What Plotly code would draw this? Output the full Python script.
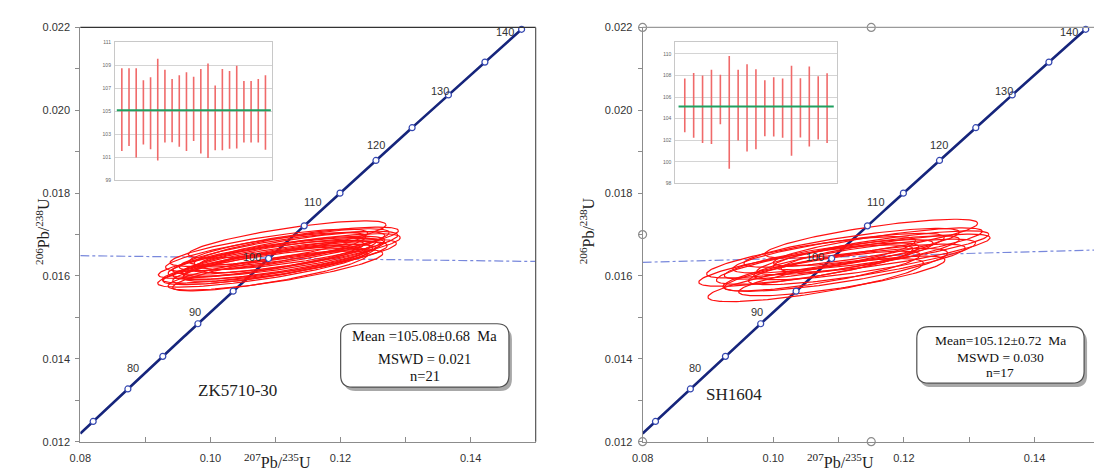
import numpy as np
import plotly.graph_objects as go

W, H = 1094, 473

# ---------------- data ----------------
# U decay constants (per year) used to build the concordia curve
L238 = 1.55125e-10
L235 = 9.8485e-10

tick_ages = [80, 85, 90, 95, 100, 105, 110, 115, 120, 125, 130, 135, 140]
label_ages = [80, 90, 100, 110, 120, 130, 140]

frame_x = [0.08, 0.15]
frame_y = [0.012, 0.022]

# ZK5710-30 : ellipses (207Pb/235U, 206Pb/238U, 2s x, 2s y, rho)
zk_x = [0.1095, 0.1082, 0.1110, 0.1125, 0.1088, 0.1100, 0.1078, 0.1118, 0.1132, 0.1092, 0.1105,
        0.1115, 0.1085, 0.1128, 0.1098, 0.1080, 0.1112, 0.1122, 0.1090, 0.1102, 0.1135]
zk_y = [0.01645, 0.01625, 0.01660, 0.01668, 0.01630, 0.01615, 0.01640, 0.01688, 0.01655, 0.01612, 0.01650,
        0.01635, 0.01658, 0.01672, 0.01628, 0.01620, 0.01645, 0.01640, 0.01668, 0.01638, 0.01662]
zk_sx = [0.0160, 0.0155, 0.0158, 0.0150, 0.0162, 0.0165, 0.0158, 0.0152, 0.0160, 0.0150, 0.0163,
         0.0157, 0.0154, 0.0161, 0.0156, 0.0161, 0.0155, 0.0164, 0.0152, 0.0159, 0.0153]
zk_sy = [0.00048, 0.00046, 0.00047, 0.00046, 0.00047, 0.00049, 0.00046, 0.00045, 0.00047, 0.00048, 0.00046,
         0.00048, 0.00047, 0.00046, 0.00048, 0.00047, 0.00046, 0.00048, 0.00045, 0.00047, 0.00046]
zk_rho = [0.80, 0.79, 0.81, 0.80, 0.82, 0.80, 0.81, 0.79, 0.80, 0.82, 0.79,
          0.80, 0.79, 0.81, 0.82, 0.80, 0.79, 0.81, 0.79, 0.80, 0.79]
zk_line = [0.01649, 0.01635]          # dashed line y at frame_x ends
zk_lo = [101.56, 101.98, 101.00, 102.12, 101.70, 100.72, 102.29, 102.31, 101.92, 101.56, 102.43,
         101.34, 100.94, 101.62, 101.62, 101.76, 101.78, 102.29, 102.29, 102.29, 101.67]
zk_hi = [108.72, 108.72, 108.72, 107.69, 107.94, 109.56, 108.60, 107.80, 108.13, 108.38, 107.99,
         108.66, 109.14, 107.24, 108.66, 108.50, 108.94, 107.63, 107.63, 107.80, 108.13]
zk_mean = 105.08
zk_text = ["Mean =105.08±0.68\u00a0 Ma", "MSWD = 0.021", "n=21"]

# SH1604
sh_x = [0.1050, 0.1085, 0.1120, 0.1160, 0.1065, 0.1095, 0.1172, 0.1058, 0.1130, 0.1105, 0.1150,
        0.1075, 0.1140, 0.1165, 0.1100, 0.1128, 0.1068]
sh_y = [0.01625, 0.01640, 0.01668, 0.01670, 0.01590, 0.01615, 0.01655, 0.01645, 0.01650, 0.01600, 0.01690,
        0.01612, 0.01640, 0.01662, 0.01655, 0.01628, 0.01630]
sh_sx = [0.0164, 0.0160, 0.0165, 0.0160, 0.0165, 0.0172, 0.0160, 0.0160, 0.0155, 0.0158, 0.0163,
         0.0150, 0.0170, 0.0165, 0.0162, 0.0166, 0.0155]
sh_sy = [0.00050, 0.00048, 0.00047, 0.00046, 0.00052, 0.00052, 0.00046, 0.00050, 0.00047, 0.00048, 0.00047,
         0.00048, 0.00049, 0.00047, 0.00048, 0.00049, 0.00050]
sh_rho = [0.80, 0.81, 0.80, 0.82, 0.79, 0.78, 0.81, 0.80, 0.82, 0.80, 0.79,
          0.81, 0.80, 0.82, 0.79, 0.81, 0.80]
sh_line = [0.01633, 0.01663]
sh_lo = [102.74, 102.22, 101.74, 101.65, 103.49, 99.35, 101.98, 100.95, 101.17, 102.37, 102.34,
         102.22, 100.56, 102.25, 101.41, 102.07, 101.74]
sh_hi = [107.72, 108.24, 107.99, 108.54, 108.08, 109.81, 108.54, 109.05, 108.57, 107.57, 107.84,
         107.72, 108.90, 107.75, 108.84, 107.93, 108.21]
sh_mean = 105.12
sh_text = ["Mean=105.12±0.72\u00a0 Ma", "MSWD = 0.030", "n=17"]

# ---------------- style / layout helpers ----------------
SERIF = "Liberation Serif"
SANS = "Liberation Sans"
NAVY = "#16257c"
label_shifts = [(40, 53), (32, 44), (19, 34), (9, 24), (0, 15), (-8, 4), (-17, -3)]


def X(px):
    return px / W


def Y(py):
    return 1 - py / H


def ratios(age_ma):
    t = np.asarray(age_ma, dtype=float) * 1e6
    return np.exp(L235 * t) - 1, np.exp(L238 * t) - 1


def ellipses(cx, cy, sx, sy, rho, n=140):
    xs, ys = [], []
    t = np.linspace(0, 2 * np.pi, n)
    for a, b, c, d, r in zip(cx, cy, sx, sy, rho):
        xs += list(a + c * np.cos(t)) + [None]
        ys += list(b + d * (r * np.cos(t) + np.sqrt(1 - r * r) * np.sin(t))) + [None]
    return xs, ys


def rrect(x0, y0, x1, y1, r):
    return (f"M {X(x0 + r)},{Y(y0)} L {X(x1 - r)},{Y(y0)} Q {X(x1)},{Y(y0)} {X(x1)},{Y(y0 + r)} "
            f"L {X(x1)},{Y(y1 - r)} Q {X(x1)},{Y(y1)} {X(x1 - r)},{Y(y1)} "
            f"L {X(x0 + r)},{Y(y1)} Q {X(x0)},{Y(y1)} {X(x0)},{Y(y1 - r)} "
            f"L {X(x0)},{Y(y0 + r)} Q {X(x0)},{Y(y0)} {X(x0 + r)},{Y(y0)} Z")


fig = go.Figure()
shapes = []
annotations = []

t0 = np.log(1 + frame_x[0]) / L235 / 1e6
curve_ages = np.linspace(t0, tick_ages[-1], 300)
cx_c, cy_c = ratios(curve_ages)
tx, ty = ratios(tick_ages)
lx, ly = ratios(label_ages)

panels = [
    dict(xa="x", ya="y", dom=[70, 530], xr=frame_x, ex=zk_x, ey=zk_y, sx=zk_sx, sy=zk_sy, rho=zk_rho,
         line=zk_line, lo=zk_lo, hi=zk_hi, mean=zk_mean, ixa="x3", iya="y3",
         inset=[105, 264, 37, 179], irange=[99, 111], itick=list(range(99, 112, 2)), iext=0.96,
         box=[333, 326, 503, 391], txt=zk_text, tys=[339, 362, 380], tfs=14.5,
         name="ZK5710-30", npos=(187, 406), ytpos=20),
    dict(xa="x2", ya="y2", dom=[638, 1094], xr=[0.08, 0.1491], ex=sh_x, ey=sh_y, sx=sh_sx, sy=sh_sy, rho=sh_rho,
         line=sh_line, lo=sh_lo, hi=sh_hi, mean=sh_mean, ixa="x4", iya="y4",
         inset=[671, 834, 37, 182], irange=[98, 111.1], itick=list(range(98, 111, 2)), iext=1.07,
         box=[915, 329, 1084, 387], txt=sh_text, tys=[343, 361, 376], tfs=13.5,
         name="SH1604", npos=(761, 410), ytpos=582),
]

for i, p in enumerate(panels):
    xa, ya = p["xa"], p["ya"]
    # dashed regression line
    fig.add_trace(go.Scatter(x=frame_x, y=p["line"], mode="lines", xaxis=xa, yaxis=ya,
                             line=dict(color="#7888dc", width=1.2, dash="dashdot"), hoverinfo="skip"))
    # concordia
    fig.add_trace(go.Scatter(x=cx_c, y=cy_c, mode="lines", xaxis=xa, yaxis=ya,
                             line=dict(color=NAVY, width=2.6), hoverinfo="skip"))
    # ellipses
    ex, ey = ellipses(p["ex"], p["ey"], p["sx"], p["sy"], p["rho"])
    fig.add_trace(go.Scatter(x=ex, y=ey, mode="lines", xaxis=xa, yaxis=ya,
                             line=dict(color="#ff1010", width=1.2), hoverinfo="skip"))
    # age markers
    fig.add_trace(go.Scatter(x=tx, y=ty, mode="markers", xaxis=xa, yaxis=ya, cliponaxis=False,
                             marker=dict(symbol="circle", size=6, color="white",
                                         line=dict(color="#3346b0", width=1.2)), hoverinfo="skip"))
    for age, x, y, (dx, dy) in zip(label_ages, lx, ly, label_shifts):
        annotations.append(dict(x=x, y=y, xref=xa, yref=ya, text=str(age), showarrow=False,
                                xshift=dx, yshift=dy, font=dict(family=SANS, size=11, color="#333")))

    # inset bars
    n = len(p["lo"])
    bx, by = [], []
    for k, (lo, hi) in enumerate(zip(p["lo"], p["hi"]), start=1):
        bx += [k, k, None]
        by += [lo, hi, None]
    fig.add_trace(go.Scatter(x=bx, y=by, mode="lines", xaxis=p["ixa"], yaxis=p["iya"],
                             line=dict(color="#f06a6a", width=1.6), hoverinfo="skip"))
    fig.add_trace(go.Scatter(x=[0.3, n + 0.75], y=[p["mean"], p["mean"]], mode="lines",
                             xaxis=p["ixa"], yaxis=p["iya"],
                             line=dict(color="#20a060", width=2), hoverinfo="skip"))

    # result box with shadow
    bx0, by0, bx1, by1 = p["box"]
    shapes.append(dict(type="path", xref="paper", yref="paper", path=rrect(bx0 + 3, by0 + 4, bx1 + 3, by1 + 4, 12),
                       fillcolor="#a8a8a8", line=dict(width=0), layer="above"))
    shapes.append(dict(type="path", xref="paper", yref="paper", path=rrect(bx0, by0, bx1, by1, 12),
                       fillcolor="white", line=dict(color="#505050", width=1.2), layer="above"))
    for s, ty_ in zip(p["txt"], p["tys"]):
        annotations.append(dict(x=X((bx0 + bx1) / 2), y=Y(ty_), xref="paper", yref="paper", text=s,
                                showarrow=False, xanchor="center", yanchor="middle",
                                font=dict(family=SERIF, size=p["tfs"], color="#111")))
    # sample name
    annotations.append(dict(x=X(p["npos"][0]), y=Y(p["npos"][1]), xref="paper", yref="paper", text=p["name"],
                            showarrow=False, font=dict(family=SERIF, size=17, color="#222")))
    # axis titles
    annotations.append(dict(x=X(p["ytpos"]), y=Y(231), xref="paper", yref="paper",
                            text="<sup>206</sup>Pb/<sup>238</sup>U", textangle=-90, showarrow=False,
                            font=dict(family=SERIF, size=16, color="#222")))
    annotations.append(dict(x=0.1103, y=Y(467), xref=xa, yref="paper",
                            text="<sup>207</sup>Pb/<sup>235</sup>U", showarrow=False, yanchor="middle",
                            font=dict(family=SERIF, size=16, color="#222")))

    # axes
    d0, d1 = p["dom"]
    ax_common = dict(showgrid=False, zeroline=False, showline=True, linecolor="#8c8c8c", linewidth=1,
                     tickcolor="#8c8c8c", tickfont=dict(family=SANS, size=11, color="#333"))
    xkey = "xaxis" if i == 0 else "xaxis2"
    ykey = "yaxis" if i == 0 else "yaxis2"
    fig.update_layout(**{
        xkey: dict(ax_common, domain=[X(d0), min(1.0, X(d1))], range=p["xr"], anchor=ya,
                   tick0=0.08, dtick=0.02, tickformat=".2f", ticks="inside", ticklen=5,
                   ticklabelstandoff=6,
                   minor=dict(tick0=0.08, dtick=0.01, ticks="inside", ticklen=5, tickcolor="#8c8c8c")),
        ykey: dict(ax_common, domain=[Y(447), Y(22)], range=frame_y, anchor=xa,
                   tick0=0.012, dtick=0.002, tickformat=".3f", ticks="outside", ticklen=4,
                   ticklabelstandoff=3,
                   minor=dict(tick0=0.012, dtick=0.001, ticks="outside", ticklen=4, tickcolor="#8c8c8c")),
    })
    il, ir, it, ib = p["inset"]
    ixkey = "xaxis3" if i == 0 else "xaxis4"
    iykey = "yaxis3" if i == 0 else "yaxis4"
    fig.update_layout(**{
        ixkey: dict(domain=[X(il), X(ir)], range=[1 - p["iext"], n + p["iext"]], anchor=p["iya"],
                    showgrid=False, zeroline=False, showticklabels=False, ticks="",
                    showline=True, mirror=True, linecolor="#c8c8c8", linewidth=1),
        iykey: dict(domain=[Y(ib), Y(it)], range=p["irange"], anchor=p["ixa"],
                    tickvals=p["itick"], showgrid=True, gridcolor="#d4d4d4", gridwidth=1,
                    zeroline=False, ticks="", showline=True, mirror=True, linecolor="#c8c8c8",
                    linewidth=1, tickfont=dict(family=SANS, size=5, color="#666"),
                    ticklabelstandoff=2),
    })

# left panel frame: dark top & right border
shapes.append(dict(type="line", xref="paper", yref="paper", x0=X(70), x1=X(530), y0=Y(22), y1=Y(22),
                   line=dict(color="#333", width=1.3)))
shapes.append(dict(type="line", xref="paper", yref="paper", x0=X(530), x1=X(530), y0=Y(447), y1=Y(22),
                   line=dict(color="#555", width=1.2)))
# right panel frame top line (grey)
shapes.append(dict(type="line", xref="paper", yref="paper", x0=X(638), x1=1.0, y0=Y(22), y1=Y(22),
                   line=dict(color="#9a9a9a", width=1.2)))

# right panel selection handles at the frame corners / midpoints
hx_mid = (frame_x[0] + frame_x[1]) / 2
hy_mid = (frame_y[0] + frame_y[1]) / 2
fig.add_trace(go.Scatter(x=[frame_x[0], hx_mid, frame_x[0], frame_x[0], hx_mid],
                         y=[frame_y[1], frame_y[1], hy_mid, frame_y[0], frame_y[0]],
                         mode="markers", xaxis="x2", yaxis="y2", cliponaxis=False,
                         marker=dict(symbol="circle", size=8, color="white",
                                     line=dict(color="#8c8c8c", width=1.2)), hoverinfo="skip"))

fig.update_layout(width=W, height=H, margin=dict(l=0, r=0, t=0, b=0), showlegend=False,
                  paper_bgcolor="white", plot_bgcolor="white", shapes=shapes, annotations=annotations)

fig.write_html("out.html")
